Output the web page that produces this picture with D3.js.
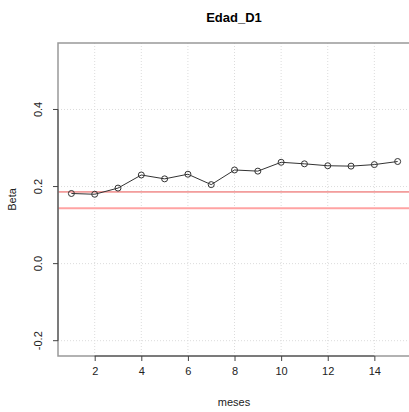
<!DOCTYPE html>
<html>
<head>
<meta charset="utf-8">
<script src="https://cdn.jsdelivr.net/npm/d3@7"></script>
<style>
  body { margin: 0; background: #fff; }
  svg text { font-family: "Liberation Sans", Arial, sans-serif; }
</style>
</head>
<body>
<div class="chart"></div>
<script>
// data
var meses = [1, 2, 3, 4, 5, 6, 7, 8, 9, 10, 11, 12, 13, 14, 15];
var beta = [0.182, 0.180, 0.196, 0.230, 0.220, 0.232, 0.205, 0.243, 0.240, 0.263, 0.259, 0.254, 0.253, 0.257, 0.265];
var refLines = [0.186, 0.144];
var xTicks = [2, 4, 6, 8, 10, 12, 14];
var yTicks = [-0.2, 0.0, 0.2, 0.4];

var svgWidth = 409;
var svgHeight = 412;

var margin = { top: 43, left: 58 };
var plotW = 352;   // right edge falls just outside the window
var plotH = 313;

var svg = d3.select(".chart").append("svg")
  .attr("width", svgWidth)
  .attr("height", svgHeight);

var chartGroup = svg.append("g")
  .attr("transform", `translate(${margin.left}, ${margin.top})`);

var xScale = d3.scaleLinear().domain([0.425, 15.53]).range([0, plotW]);
var yScale = d3.scaleLinear().domain([-0.2397, 0.5725]).range([plotH, 0]);

// grid
chartGroup.selectAll(".vgrid").data(xTicks).enter().append("line")
  .attr("x1", d => xScale(d)).attr("x2", d => xScale(d))
  .attr("y1", 0).attr("y2", plotH)
  .attr("stroke", "#dcdcdc").attr("stroke-dasharray", "1,2");
chartGroup.selectAll(".hgrid").data(yTicks).enter().append("line")
  .attr("x1", 0).attr("x2", plotW)
  .attr("y1", d => yScale(d)).attr("y2", d => yScale(d))
  .attr("stroke", "#dcdcdc").attr("stroke-dasharray", "1,2");

// reference lines
chartGroup.append("line")
  .attr("x1", 0).attr("x2", plotW)
  .attr("y1", yScale(refLines[0])).attr("y2", yScale(refLines[0]))
  .attr("stroke", "#e8504f").attr("stroke-width", 1);
chartGroup.append("line")
  .attr("x1", 0).attr("x2", plotW)
  .attr("y1", yScale(refLines[1])).attr("y2", yScale(refLines[1]))
  .attr("stroke", "#ffa3a3").attr("stroke-width", 2);

// box
chartGroup.append("rect")
  .attr("x", 0).attr("y", 0).attr("width", plotW).attr("height", plotH)
  .attr("fill", "none").attr("stroke", "#999").attr("stroke-width", 1.5);

// axes
var fmtY = d => d3.format(".1f")(d).replace("\u2212", "-");
var bottomAxis = d3.axisBottom(xScale).tickValues(xTicks).tickSize(5).tickPadding(6).tickFormat(d3.format("d"));
var leftAxis = d3.axisLeft(yScale).tickValues(yTicks).tickSize(5).tickPadding(4).tickFormat(fmtY);

var xAxis = chartGroup.append("g")
  .attr("transform", `translate(0, ${plotH})`)
  .call(bottomAxis);
xAxis.select(".domain")
  .attr("d", `M${xScale(2)},0H${xScale(14)}`)
  .attr("stroke", "#444");
xAxis.selectAll(".tick line").attr("stroke", "#444");
xAxis.selectAll(".tick text").attr("font-size", 11).attr("fill", "#222");

var yAxis = chartGroup.append("g").call(leftAxis);
yAxis.select(".domain")
  .attr("d", `M0,${yScale(-0.2)}V${yScale(0.4)}`)
  .attr("stroke", "#444");
yAxis.selectAll(".tick line").attr("stroke", "#444");
yAxis.selectAll(".tick text")
  .attr("font-size", 11).attr("fill", "#222")
  .attr("text-anchor", "middle").attr("dy", null)
  .attr("transform", d => `translate(-19, ${yScale(d)}) rotate(-90)`)
  .attr("x", 0).attr("y", 0)
  .attr("dominant-baseline", "middle");
yAxis.selectAll(".tick").attr("transform", null);
yAxis.selectAll(".tick line")
  .attr("transform", d => `translate(0, ${yScale(d)})`);

// series
var line = d3.line()
  .x((d, i) => xScale(meses[i]))
  .y(d => yScale(d));
chartGroup.append("path")
  .datum(beta)
  .attr("d", line)
  .attr("fill", "none")
  .attr("stroke", "#333")
  .attr("stroke-width", 1);
chartGroup.selectAll("circle").data(beta).enter().append("circle")
  .attr("cx", (d, i) => xScale(meses[i]))
  .attr("cy", d => yScale(d))
  .attr("r", 3)
  .attr("fill", "none")
  .attr("stroke", "#333");

// titles
svg.append("text")
  .attr("x", margin.left + 176).attr("y", 22)
  .attr("text-anchor", "middle")
  .attr("font-size", 13).attr("font-weight", "bold")
  .text("Edad_D1");
svg.append("text")
  .attr("x", margin.left + 176).attr("y", 406)
  .attr("text-anchor", "middle")
  .attr("font-size", 11).attr("fill", "#222")
  .text("meses");
svg.append("text")
  .attr("transform", `translate(16, ${margin.top + plotH / 2}) rotate(-90)`)
  .attr("text-anchor", "middle")
  .attr("font-size", 11).attr("fill", "#222")
  .text("Beta");
</script>
</body>
</html>
